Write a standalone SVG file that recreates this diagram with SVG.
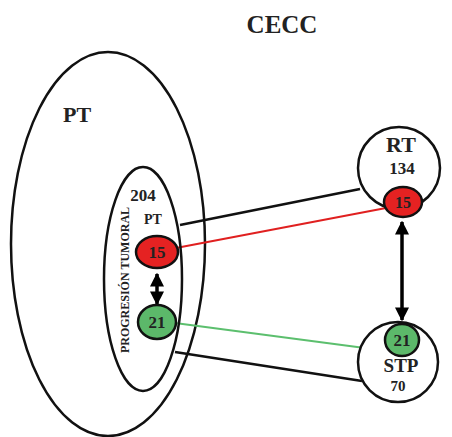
<svg xmlns="http://www.w3.org/2000/svg" width="452" height="437" viewBox="0 0 452 437">
<defs>
<marker id="ah" viewBox="0 0 10 10" refX="9" refY="5" markerWidth="4" markerHeight="4" orient="auto-start-reverse"><path d="M0,0 L10,5 L0,10 z" fill="#000"/></marker>
<style>
.sh{fill:none;stroke:#111;stroke-width:2.5}
.wh{fill:#fff;stroke:#111;stroke-width:2.5}
.t{font-family:"Liberation Serif",serif;font-weight:bold;fill:#222;text-anchor:middle}
</style>
</defs>
<rect width="452" height="437" fill="#fff"/>
<g id="title"><text class="t" x="282" y="33" font-size="25">CECC</text></g>
<g id="outer"><ellipse class="sh" cx="108" cy="244" rx="97" ry="192"/><text class="t" x="77" y="122" font-size="22">PT</text></g>
<g id="connectors">
<line x1="180" y1="225" x2="360" y2="189" stroke="#111" stroke-width="2.5"/>
<line x1="175" y1="352" x2="362" y2="381" stroke="#111" stroke-width="2.5"/>
<line x1="176" y1="248" x2="386" y2="208" stroke="#e02020" stroke-width="2"/>
<line x1="175" y1="323" x2="395" y2="352" stroke="#5cbf6e" stroke-width="2"/>
<line x1="157" y1="274" x2="157" y2="304" stroke="#000" stroke-width="3.5" marker-start="url(#ah)" marker-end="url(#ah)"/>
<line x1="402" y1="222" x2="402" y2="320" stroke="#000" stroke-width="3.5" marker-start="url(#ah)" marker-end="url(#ah)"/>
</g>
<g id="inner"><ellipse class="sh" cx="143" cy="279" rx="39" ry="112"/>
<text class="t" x="143" y="201" font-size="17">204</text>
<text class="t" x="153" y="224" font-size="14">PT</text>
<text class="t" font-size="12" transform="translate(129,280) rotate(-90)">PROGRESIÓN TUMORAL</text></g>
<g id="rt"><circle class="wh" cx="399" cy="168" r="41"/>
<text class="t" x="401" y="152" font-size="22">RT</text>
<text class="t" x="402" y="174" font-size="17">134</text></g>
<g id="stp"><circle class="wh" cx="398" cy="362" r="40"/>
<text class="t" x="401" y="372" font-size="19">STP</text>
<text class="t" x="398" y="391" font-size="15">70</text></g>
<g id="n15a"><ellipse cx="157" cy="252" rx="21" ry="16" fill="#e52222" stroke="#111" stroke-width="2.5"/><text class="t" x="157" y="258" font-size="17">15</text></g>
<g id="n21a"><ellipse cx="157" cy="322" rx="19" ry="17" fill="#5cb86a" stroke="#111" stroke-width="2.5"/><text class="t" x="157" y="328" font-size="17">21</text></g>
<g id="n15b"><ellipse cx="403" cy="202" rx="19" ry="15" fill="#e52222" stroke="#111" stroke-width="2.5"/><text class="t" x="403" y="208" font-size="16">15</text></g>
<g id="n21b"><ellipse cx="402" cy="340" rx="17" ry="16" fill="#5cb86a" stroke="#111" stroke-width="2.5"/><text class="t" x="402" y="346" font-size="17">21</text></g>
</svg>
